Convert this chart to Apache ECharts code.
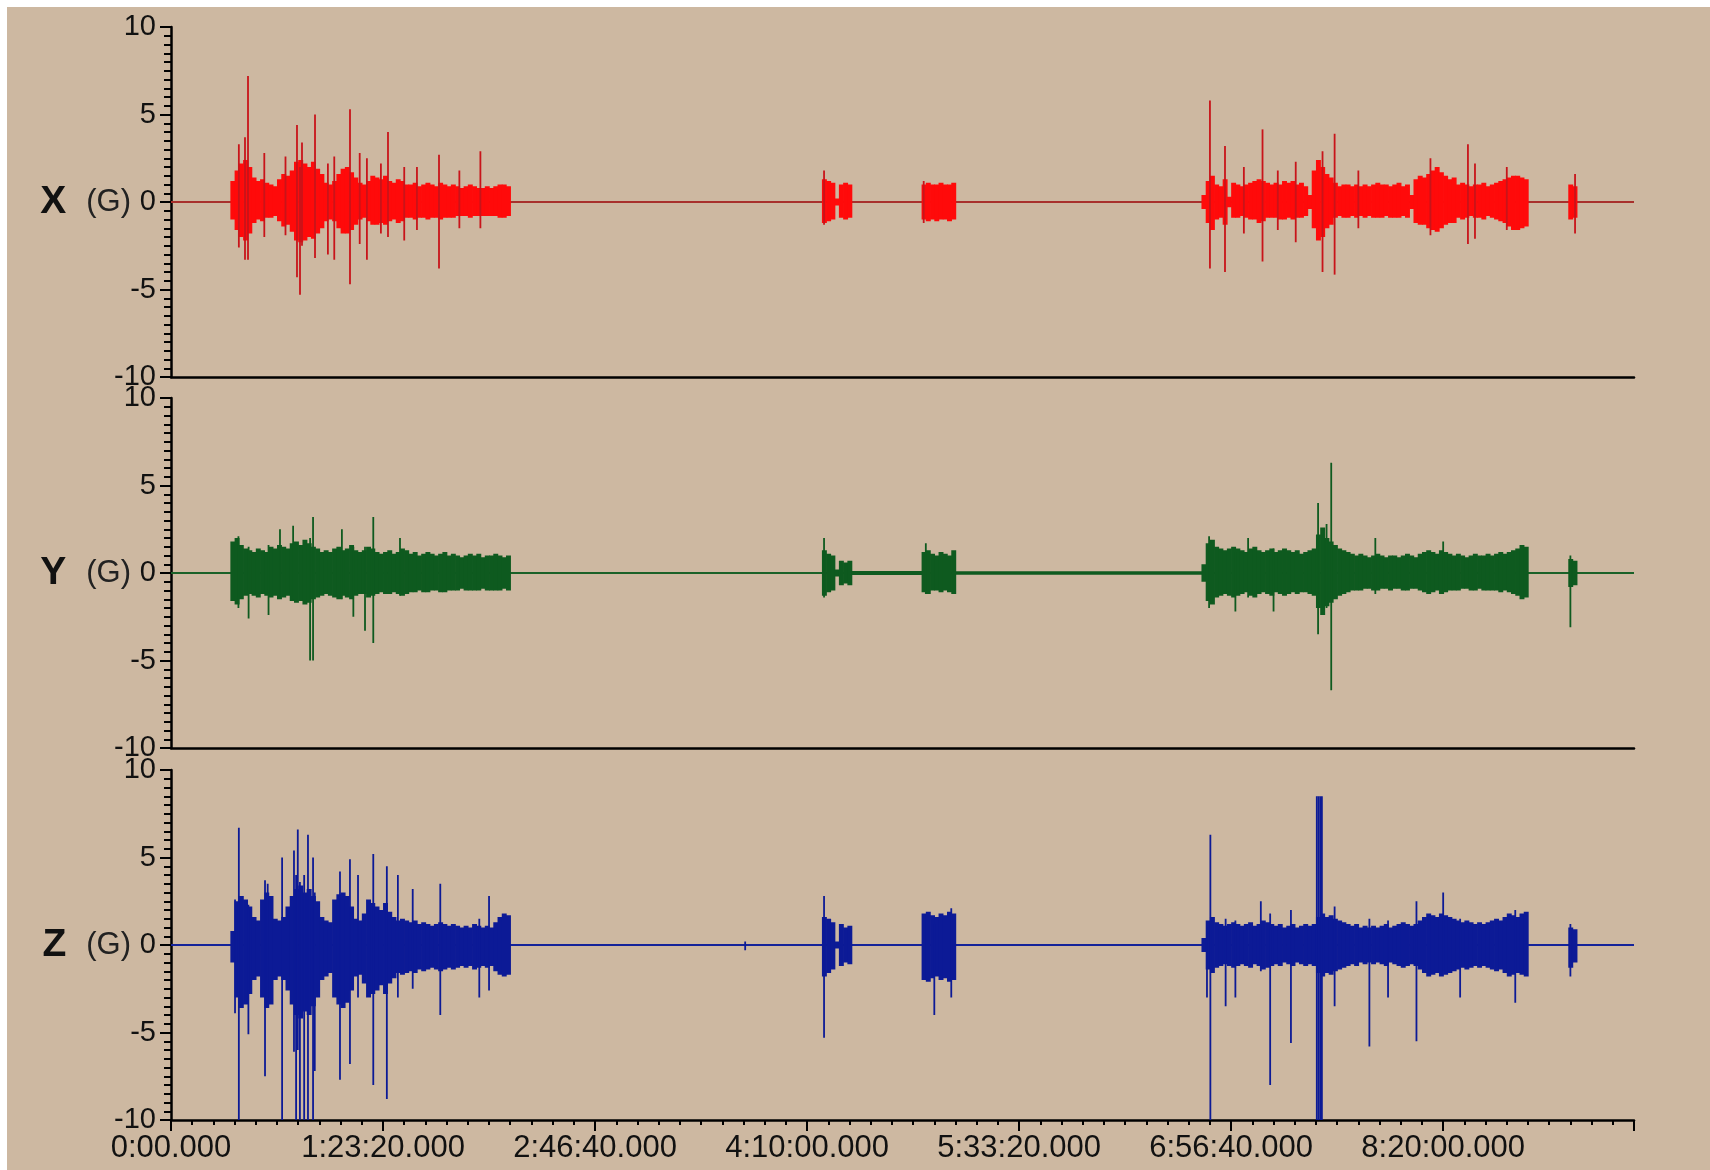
<!DOCTYPE html>
<html><head><meta charset="utf-8">
<script src="https://cdn.jsdelivr.net/npm/echarts@6/dist/echarts.min.js"></script>
<style>
html,body{margin:0;padding:0;background:#ffffff;width:1710px;height:1170px;overflow:hidden}
#c{position:absolute;left:7px;top:7px;width:1703px;height:1163px;background:#cdb8a1}
</style></head><body><div id="c"></div>
<script>
// ---------- data (seconds, G) ----------
const binWidth = 100;            // envelope bin width in seconds
const timeMax = 34500;
const xTickLabels = ['0:00.000','1:23:20.000','2:46:40.000','4:10:00.000','5:33:20.000','6:56:40.000','8:20:00.000'];
const channelNames = ['X','Y','Z'];

// burst segment start times (s)
const segStart = [1400, 15350, 17700, 24300, 32950];

// X channel envelope (upper / lower per 100 s bin, one sub-array per burst)
const xHi = [
 [1.2,1.8,2.2,2.4,2.0,1.4,1.2,1.3,1.1,1.0, 0.9,1.3,1.6,1.5,1.8,2.3,2.4,2.2,2.0,2.3, 1.9,1.6,1.1,1.0,1.2,1.6,1.9,2.0,1.7,1.4, 1.1,1.0,1.2,1.5,1.4,1.3,1.5,1.2,1.1,1.3, 1.2,1.0,1.0,1.1,0.9,1.0,1.1,1.0,0.9,1.1, 1.0,0.9,1.0,0.9,0.8,0.9,1.0,0.9,0.8,0.8, 0.9,0.8,0.9,1.0,1.0,0.9],
 [1.3,1.2,1.1,0.2,1.0,1.1,1.0],
 [1.0,1.1,1.0,1.0,1.1,1.0,1.0,1.1],
 [0.4,1.2,1.5,1.0,0.9,1.3,0.3,1.1,1.0,0.9, 1.0,1.1,1.2,1.3,1.2,1.1,1.0,1.1,1.0,1.2, 1.1,1.2,1.0,1.1,0.9,0.4,1.8,2.4,2.0,1.6, 1.4,1.1,0.9,1.0,1.0,0.9,1.0,0.9,1.0,0.9, 1.0,1.1,1.0,1.0,0.9,1.0,1.1,0.9,1.0,0.4, 1.3,1.5,1.4,1.6,1.8,2.0,1.7,1.5,1.3,1.4, 1.0,1.1,1.0,0.9,1.0,1.0,1.1,0.9,1.0,1.1, 1.2,1.3,1.4,1.5,1.5,1.4,1.3],
 [1.0,0.9]
];
const xLo = [
 [-1.0,-1.6,-2.0,-2.2,-1.8,-1.2,-1.0,-1.1,-0.9,-0.9, -0.8,-1.1,-1.4,-1.3,-1.7,-2.2,-2.3,-2.2,-2.0,-2.1, -1.8,-1.5,-1.1,-1.0,-1.1,-1.5,-1.8,-1.8,-1.6,-1.3, -1.0,-0.9,-1.1,-1.3,-1.3,-1.2,-1.3,-1.1,-1.0,-1.2, -1.1,-0.9,-0.9,-1.0,-0.9,-0.9,-1.0,-0.9,-0.9,-1.0, -0.9,-0.9,-0.9,-0.8,-0.8,-0.8,-0.9,-0.8,-0.8,-0.8, -0.8,-0.8,-0.8,-0.9,-0.9,-0.8],
 [-1.2,-1.1,-1.0,-0.2,-0.9,-1.0,-0.9],
 [-1.0,-1.1,-1.0,-1.1,-1.0,-1.0,-1.1,-1.0],
 [-0.4,-1.2,-1.6,-1.0,-0.9,-1.3,-0.3,-0.9,-0.9,-0.8, -0.9,-1.0,-1.0,-1.2,-1.1,-0.9,-0.9,-0.9,-1.0,-1.0, -0.9,-1.0,-0.9,-0.9,-0.8,-0.4,-1.5,-2.2,-2.0,-1.5, -1.3,-0.9,-0.8,-0.9,-0.9,-0.8,-0.9,-0.8,-0.9,-0.8, -0.9,-0.9,-0.9,-0.8,-0.9,-0.9,-0.9,-0.8,-0.9,-0.4, -1.2,-1.3,-1.3,-1.5,-1.6,-1.7,-1.5,-1.3,-1.2,-1.2, -0.9,-1.0,-0.9,-0.8,-0.9,-0.9,-1.0,-0.8,-0.9,-1.0, -1.1,-1.2,-1.4,-1.6,-1.6,-1.5,-1.4],
 [-1.0,-0.9]
];
// X spikes: time, top, bottom
const xSpikeT  = [1600,1745,1816,2200,2700,2971,3042,3089,3396,3700,3850,4221,4450,4620,4950,5117,5500,5800,6320,6800,7296,15400,17750,24500,24855,25300,25740,26100,26523,27155,27440,28000,29700,30584,30750,31500,33110];
const xSpikeHi = [3.3,3.7,7.2,2.8,2.6,4.4,2.0,3.4,5.0,2.2,2.6,5.3,2.8,2.5,2.2,4.0,2.0,2.0,2.7,1.8,2.9,1.8,1.2,5.8,3.2,2.0,4.15,1.8,2.3,2.9,3.9,1.8,2.5,3.3,2.2,2.0,1.6];
const xSpikeLo = [-2.6,-3.3,-3.3,-2.0,-1.9,-4.3,-5.3,-2.5,-3.2,-3.0,-3.3,-4.7,-2.4,-3.3,-1.8,-2.0,-2.2,-1.6,-3.8,-1.5,-1.5,-1.3,-1.2,-3.8,-4.0,-1.8,-3.4,-1.6,-2.3,-4.0,-4.15,-1.5,-1.9,-2.4,-2.1,-1.6,-1.8];

// Y channel
const yHi = [
 [1.8,2.0,1.6,1.4,1.3,1.2,1.4,1.3,1.2,1.5, 1.4,1.6,1.5,1.4,1.7,1.8,1.6,1.9,1.7,1.5, 1.4,1.2,1.3,1.2,1.4,1.5,1.3,1.4,1.6,1.3, 1.2,1.3,1.5,1.4,1.2,1.1,1.2,1.3,1.1,1.2, 1.4,1.3,1.1,1.2,1.0,1.1,1.2,1.1,1.0,1.1, 1.2,1.0,1.1,1.0,0.9,1.0,1.1,1.0,1.1,0.9, 1.0,1.0,1.1,1.0,0.9,1.0],
 [1.3,1.1,1.0,0.2,0.7,0.6,0.7],
 [1.2,1.3,1.1,1.0,1.2,1.1,1.0,1.3],
 [0.5,1.7,1.9,1.5,1.4,1.3,1.4,1.5,1.4,1.3, 1.2,1.4,1.5,1.3,1.2,1.3,1.4,1.2,1.3,1.4, 1.3,1.2,1.3,1.1,1.2,1.3,1.4,2.2,2.6,2.0, 1.8,1.6,1.4,1.3,1.2,1.1,1.0,1.1,1.0,0.9, 1.0,1.1,1.0,0.9,1.0,1.0,0.9,1.0,1.1,1.0, 0.9,1.1,1.2,1.3,1.2,1.1,1.3,1.2,1.1,1.0, 1.1,1.0,0.9,1.0,1.1,1.0,1.0,1.1,1.0,1.1, 1.2,1.1,1.2,1.3,1.4,1.6,1.5],
 [0.8,0.7]
];
const yLo = [
 [-1.6,-1.8,-1.5,-1.3,-1.2,-1.3,-1.4,-1.2,-1.3,-1.4, -1.3,-1.5,-1.4,-1.3,-1.6,-1.7,-1.6,-1.8,-1.7,-1.5, -1.4,-1.3,-1.2,-1.3,-1.4,-1.5,-1.3,-1.4,-1.5,-1.3, -1.2,-1.2,-1.4,-1.3,-1.2,-1.1,-1.2,-1.2,-1.1,-1.2, -1.3,-1.2,-1.1,-1.1,-1.0,-1.1,-1.1,-1.0,-1.0,-1.1, -1.1,-1.0,-1.0,-1.0,-0.9,-1.0,-1.0,-1.0,-1.0,-0.9, -1.0,-1.0,-1.0,-1.0,-0.9,-1.0],
 [-1.3,-1.1,-1.0,-0.2,-0.7,-0.6,-0.7],
 [-1.1,-1.2,-1.0,-1.0,-1.1,-1.0,-1.1,-1.2],
 [-0.5,-1.6,-1.8,-1.4,-1.3,-1.2,-1.3,-1.4,-1.3,-1.2, -1.1,-1.3,-1.4,-1.2,-1.1,-1.2,-1.3,-1.1,-1.2,-1.3, -1.2,-1.1,-1.2,-1.1,-1.1,-1.2,-1.3,-2.0,-2.4,-1.9, -1.7,-1.5,-1.3,-1.2,-1.1,-1.0,-1.0,-1.0,-0.9,-0.9, -1.0,-1.0,-0.9,-0.9,-1.0,-0.9,-0.9,-1.0,-1.0,-0.9, -0.9,-1.0,-1.1,-1.2,-1.1,-1.0,-1.2,-1.1,-1.0,-1.0, -1.0,-0.9,-0.9,-1.0,-1.0,-0.9,-1.0,-1.0,-1.0,-1.0, -1.1,-1.0,-1.1,-1.2,-1.3,-1.5,-1.4],
 [-0.8,-0.7]
];
// quiet but slightly noisy stretches of Y: start, end, half-amplitude
const yNoiseStart = [16050, 18500];
const yNoiseEnd   = [17700, 24300];
const yNoiseAmp   = [0.12, 0.1];
const ySpikeT  = [1590,1830,2300,2570,2880,3280,3350,4030,4300,4575,4770,5400,15400,17800,24480,25100,25400,26000,27050,27250,27360,28400,30000,33000];
const ySpikeHi = [2.1,1.5,1.6,2.5,2.7,2.0,3.2,2.5,1.5,1.5,3.2,2.0,2.0,1.7,2.1,1.2,2.0,1.4,4.0,2.8,6.3,2.0,1.8,1.0];
const ySpikeLo = [-2.0,-2.6,-2.4,-1.4,-1.5,-5.0,-5.0,-1.5,-2.5,-3.3,-4.0,-1.3,-1.4,-1.2,-2.0,-2.2,-1.4,-2.2,-3.5,-2.0,-6.7,-1.2,-1.2,-3.1];

// Z channel
const zHi = [
 [0.8,2.5,2.8,2.6,2.2,1.6,1.4,2.6,3.0,2.8, 1.5,1.4,1.6,2.2,2.8,3.2,3.4,3.0,3.2,2.8, 2.5,1.6,1.4,1.3,2.6,2.9,3.0,2.8,2.2,1.5, 1.4,1.8,2.6,2.4,2.2,2.0,2.4,1.9,1.6,1.4, 1.5,1.4,1.3,1.4,1.2,1.3,1.2,1.1,1.2,1.3, 1.2,1.1,1.2,1.1,1.0,1.1,1.0,1.2,1.1,1.0, 1.1,1.0,1.3,1.6,1.8,1.7],
 [1.6,1.5,1.3,0.2,1.2,1.0,1.1],
 [1.8,1.9,1.7,1.6,1.8,1.7,1.9,1.8],
 [0.4,1.4,1.6,1.3,1.2,1.1,1.2,1.3,1.2,1.1, 1.2,1.3,1.1,1.2,1.4,1.3,1.2,1.1,1.2,1.0, 1.1,1.2,1.0,1.1,1.2,1.1,1.2,1.6,1.8,1.6, 1.7,1.5,1.4,1.3,1.2,1.1,1.2,1.0,1.1,1.0, 1.1,1.0,1.1,1.2,1.0,1.1,1.2,1.3,1.2,1.1, 1.2,1.4,1.6,1.8,1.7,1.6,1.8,1.7,1.6,1.5, 1.4,1.3,1.4,1.3,1.2,1.3,1.2,1.3,1.4,1.5, 1.4,1.6,1.8,1.7,1.6,1.8,1.9],
 [1.0,0.9]
];
const zLo = [
 [-1.0,-3.0,-3.6,-3.4,-2.8,-2.0,-1.8,-3.0,-3.6,-3.4, -2.0,-1.8,-2.0,-2.6,-3.4,-4.0,-4.2,-3.8,-4.0,-3.5, -3.0,-2.0,-1.8,-1.6,-3.0,-3.4,-3.6,-3.3,-2.6,-1.8, -1.7,-2.2,-3.0,-2.8,-2.6,-2.3,-2.8,-2.2,-1.9,-1.6, -1.7,-1.6,-1.5,-1.6,-1.4,-1.5,-1.4,-1.3,-1.4,-1.5, -1.4,-1.3,-1.4,-1.3,-1.2,-1.3,-1.2,-1.4,-1.3,-1.2, -1.3,-1.2,-1.5,-1.7,-1.8,-1.7],
 [-1.8,-1.6,-1.4,-0.2,-1.2,-1.0,-1.1],
 [-2.0,-2.1,-1.9,-1.8,-2.0,-1.9,-2.1,-2.0],
 [-0.4,-1.4,-1.6,-1.3,-1.2,-1.1,-1.2,-1.3,-1.2,-1.1, -1.2,-1.3,-1.1,-1.2,-1.4,-1.3,-1.2,-1.1,-1.2,-1.0, -1.1,-1.2,-1.0,-1.1,-1.2,-1.1,-1.2,-1.6,-1.8,-1.6, -1.7,-1.5,-1.4,-1.3,-1.2,-1.1,-1.2,-1.0,-1.1,-1.0, -1.1,-1.0,-1.1,-1.2,-1.0,-1.1,-1.2,-1.3,-1.2,-1.1, -1.2,-1.4,-1.6,-1.8,-1.7,-1.6,-1.8,-1.7,-1.6,-1.5, -1.4,-1.3,-1.4,-1.3,-1.2,-1.3,-1.2,-1.3,-1.4,-1.5, -1.4,-1.6,-1.8,-1.7,-1.6,-1.7,-1.8],
 [-1.3,-1.0]
];
const zSpikeT  = [1510,1600,1825,2217,2280,2620,2900,2950,2990,3040,3140,3230,3350,3390,3985,4220,4410,4770,5090,5350,5700,6350,7270,7500,13540,15400,18000,18400,24430,24510,24870,25100,25700,25920,26410,27020,27060,27100,27140,27440,28260,28700,29370,30000,30400,31700,33000];
const zSpikeHi = [2.6,6.7,2.3,3.7,3.5,5.0,5.4,4.0,6.6,3.6,4.0,6.3,5.0,3.0,4.2,4.9,4.0,5.2,4.5,4.0,3.2,3.5,1.5,2.8,0.2,2.8,1.2,2.1,1.0,6.3,1.5,1.4,2.5,1.8,2.0,8.5,8.5,8.5,8.5,2.2,1.5,1.4,2.5,3.0,1.5,2.0,1.2];
const zSpikeLo = [-3.9,-10,-5.1,-7.5,-3.0,-10,-6.1,-10,-6.0,-10,-10,-10,-10,-7.2,-7.7,-6.8,-3.0,-8.0,-8.8,-3.0,-2.5,-4.0,-3.0,-2.6,-0.3,-5.3,-4.0,-3.0,-3.0,-10,-3.5,-3.0,-1.5,-8.0,-5.6,-10,-10,-10,-10,-3.5,-5.8,-3.0,-5.5,-1.5,-3.0,-3.3,-1.8];

// ---------- styling ----------
const bodyColors  = ['#ff0a0a', '#0e5a1f', '#0c1a96'];
const spikeColors = ['#c8141a', '#0e5a1f', '#0c1a96'];
const baseColors  = ['#a8302c', '#1a6128', '#14239a'];
const FONT = '"Liberation Sans", Arial, sans-serif';

function envData(hiArr, loArr) {
  const out = [];
  hiArr.forEach((seg, s) => {
    seg.forEach((h, k) => {
      const t0 = segStart[s] + k * binWidth;
      out.push([t0, t0 + binWidth, loArr[s][k], h]);
    });
  });
  return out;
}
function spikeData(T, H, L) { return T.map((t, i) => [t, L[i], H[i]]); }

const envRender = color => (params, api) => {
  const p0 = api.coord([api.value(0), api.value(3)]);
  const p1 = api.coord([api.value(1), api.value(2)]);
  return { type: 'rect', shape: { x: p0[0], y: p0[1], width: Math.max(1, p1[0] - p0[0] + 0.7), height: Math.max(1.5, p1[1] - p0[1]) }, style: { fill: color } };
};
const spikeRender = color => (params, api) => {
  const a = api.coord([api.value(0), api.value(2)]);
  const b = api.coord([api.value(0), api.value(1)]);
  return { type: 'line', shape: { x1: a[0], y1: a[1], x2: b[0], y2: b[1] }, style: { stroke: color, lineWidth: 1.8 } };
};

const envs = [envData(xHi, xLo), envData(yHi, yLo), envData(zHi, zLo)];
const spikes = [spikeData(xSpikeT, xSpikeHi, xSpikeLo), spikeData(ySpikeT, ySpikeHi, ySpikeLo), spikeData(zSpikeT, zSpikeHi, zSpikeLo)];
const yNoise = yNoiseStart.map((s, i) => [s, yNoiseEnd[i], -yNoiseAmp[i], yNoiseAmp[i]]);

const gridTops = [20, 391, 763];
const grids = gridTops.map(t => ({ left: 164, right: 76, top: t, height: 350, outerBoundsMode: 'none', containLabel: false }));

const xAxes = [0, 1, 2].map(i => ({
  type: 'value', gridIndex: i, min: 0, max: timeMax, interval: 5000,
  axisLine: { show: true, onZero: false, lineStyle: { color: '#000', width: 2.5 } },
  axisTick: { show: i === 2, length: 11, lineStyle: { color: '#000', width: 2 } },
  minorTick: { show: i === 2, splitNumber: 10, length: 5, lineStyle: { color: '#000', width: 2 } },
  axisLabel: {
    show: i === 2, color: '#111', fontFamily: FONT, fontSize: 31, margin: 13, showMaxLabel: false,
    formatter: v => (v % 5000 === 0 && v / 5000 < xTickLabels.length) ? xTickLabels[v / 5000] : ''
  },
  splitLine: { show: false }, minorSplitLine: { show: false }
}));

const yAxes = [0, 1, 2].map(i => ({
  type: 'value', gridIndex: i, min: -10, max: 10, interval: 5,
  axisLine: { show: true, onZero: false, lineStyle: { color: '#000', width: 2.5 } },
  axisTick: { show: true, length: 11, lineStyle: { color: '#000', width: 2 } },
  minorTick: { show: true, splitNumber: 10, length: 7, lineStyle: { color: '#000', width: 2 } },
  axisLabel: { color: '#111', fontFamily: FONT, fontSize: 29, margin: 15, showMinLabel: true, showMaxLabel: true, hideOverlap: false },
  splitLine: { show: false }, minorSplitLine: { show: false },
  name: '{b|' + channelNames[i] + '}{n|(G)}',
  nameLocation: 'middle', nameRotate: 0, nameGap: 40, nameMoveOverlap: false,
  nameTextStyle: {
    fontFamily: FONT,
    rich: {
      b: { fontFamily: FONT, fontSize: 39, fontWeight: 'bold', color: '#111' },
      n: { fontFamily: FONT, fontSize: 31, color: '#222', padding: [0, 0, 0, 20] }
    }
  }
}));

const series = [];
[0, 1, 2].forEach(i => {
  series.push({
    type: 'line', xAxisIndex: i, yAxisIndex: i, data: [[0, 0], [timeMax, 0]],
    symbol: 'none', lineStyle: { color: baseColors[i], width: 2 }, silent: true, z: 2
  });
  series.push({
    type: 'custom', xAxisIndex: i, yAxisIndex: i, data: envs[i], renderItem: envRender(bodyColors[i]),
    encode: { x: [0, 1], y: [2, 3] }, silent: true, z: 3, clip: true
  });
  series.push({
    type: 'custom', xAxisIndex: i, yAxisIndex: i, data: spikes[i], renderItem: spikeRender(spikeColors[i]),
    encode: { x: 0, y: [1, 2] }, silent: true, z: 4, clip: true
  });
});
series.push({
  type: 'custom', xAxisIndex: 1, yAxisIndex: 1, data: yNoise, renderItem: envRender(bodyColors[1]),
  encode: { x: [0, 1], y: [2, 3] }, silent: true, z: 3, clip: true
});

const chart = echarts.init(document.getElementById('c'), null, { renderer: 'canvas' });
chart.setOption({
  backgroundColor: '#cdb8a1',
  animation: false,
  grid: grids,
  xAxis: xAxes,
  yAxis: yAxes,
  series: series
});
</script></body></html>
